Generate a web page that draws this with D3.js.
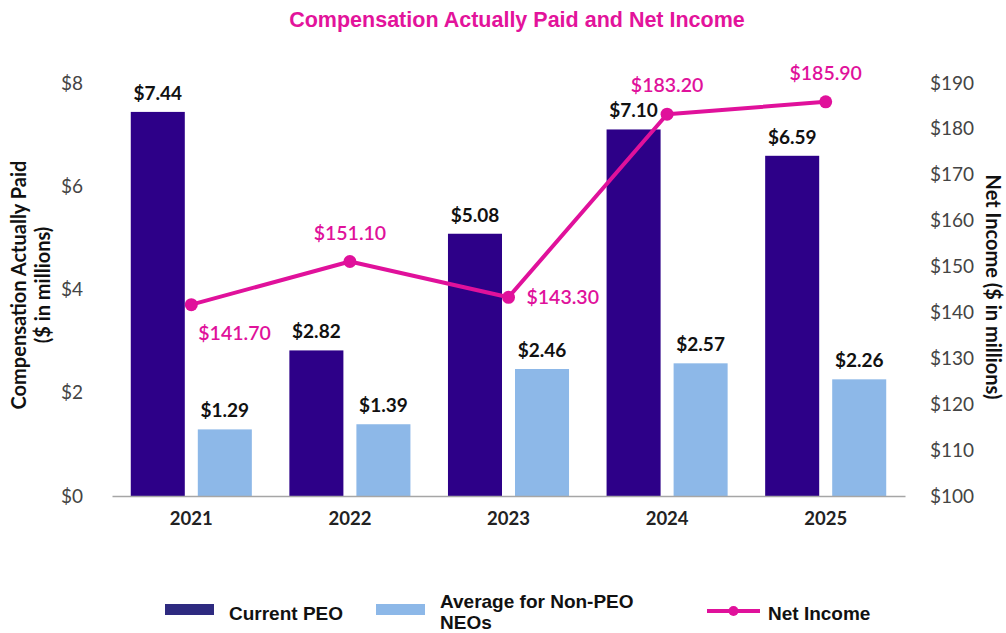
<!DOCTYPE html>
<html>
<head>
<meta charset="utf-8">
<script src="https://cdn.jsdelivr.net/npm/d3@7"></script>
<style>
  html, body { margin: 0; padding: 0; background: #fff; }
  svg { display: block; }
</style>
</head>
<body>
<svg id="chart" width="1006" height="633"></svg>
<script>
// ---- data ----
const years = ["2021", "2022", "2023", "2024", "2025"];
const currentPEO = [7.44, 2.82, 5.08, 7.10, 6.59];
const nonPEONEOs = [1.29, 1.39, 2.46, 2.57, 2.26];
const netIncome = [141.70, 151.10, 143.30, 183.20, 185.90];
const leftTicks = [0, 2, 4, 6, 8];
const rightTicks = [100, 110, 120, 130, 140, 150, 160, 170, 180, 190];
const seriesNames = ["Current PEO", "Average for Non-PEO NEOs", "Net Income"];

// label placement for net income values (layout only)
const niLabelPlace = ["belowRight", "above", "right", "above", "above"];

const C = {
  peo: "#2D0088",
  neo: "#8DB8E8",
  ni: "#E0119B",
  title: "#E3139B"
};

const svg = d3.select("#chart");
const M = { left: 112, right: 905, top: 83, bottom: 496 };

const x0 = d3.scaleBand().domain(years).range([M.left, M.right]).padding(0);
const x1 = d3.scaleBand().domain(["peo", "neo"]).range([0, x0.bandwidth()])
  .paddingInner(0.194).paddingOuter(0.28);
const yL = d3.scaleLinear().domain([0, 8]).range([M.bottom, M.top]);
const yR = d3.scaleLinear().domain([100, 190]).range([M.bottom, M.top]);

// title
svg.append("text")
  .attr("x", 517).attr("y", 27)
  .attr("text-anchor", "middle")
  .attr("font-family", "'Liberation Sans', Arial, sans-serif")
  .attr("font-weight", "bold")
  .attr("font-size", 21.5)
  .attr("fill", C.title)
  .text("Compensation Actually Paid and Net Income");

// left axis
const gL = svg.append("g").attr("transform", `translate(90,0)`)
  .call(d3.axisLeft(yL).tickValues(leftTicks).tickSize(0).tickPadding(7).tickFormat(d => "$" + d));
gL.select(".domain").remove();
gL.selectAll("text").attr("font-family", "Lato, sans-serif").attr("font-size", 19).attr("fill", "#444");

// right axis
const gR = svg.append("g").attr("transform", `translate(922,0)`)
  .call(d3.axisRight(yR).tickValues(rightTicks).tickSize(0).tickPadding(8).tickFormat(d => "$" + d));
gR.select(".domain").remove();
gR.selectAll("text").attr("font-family", "Lato, sans-serif").attr("font-size", 19).attr("fill", "#444");

// bars
const groups = svg.append("g").selectAll("g").data(years).join("g")
  .attr("transform", d => `translate(${x0(d)},0)`);

groups.append("rect")
  .attr("x", x1("peo")).attr("width", x1.bandwidth())
  .attr("y", (d, i) => yL(currentPEO[i]))
  .attr("height", (d, i) => yL(0) - yL(currentPEO[i]))
  .attr("fill", C.peo);
groups.append("rect")
  .attr("x", x1("neo")).attr("width", x1.bandwidth())
  .attr("y", (d, i) => yL(nonPEONEOs[i]))
  .attr("height", (d, i) => yL(0) - yL(nonPEONEOs[i]))
  .attr("fill", C.neo);

// bar labels
groups.append("text")
  .attr("x", x1("peo") + x1.bandwidth() / 2)
  .attr("y", (d, i) => yL(currentPEO[i]) - 12)
  .attr("text-anchor", "middle")
  .attr("font-family", "Lato, sans-serif").attr("font-weight", "bold").attr("font-size", 19)
  .attr("fill", "#111")
  .text((d, i) => "$" + currentPEO[i].toFixed(2));
groups.append("text")
  .attr("x", x1("neo") + x1.bandwidth() / 2)
  .attr("y", (d, i) => yL(nonPEONEOs[i]) - 12)
  .attr("text-anchor", "middle")
  .attr("font-family", "Lato, sans-serif").attr("font-weight", "bold").attr("font-size", 19)
  .attr("fill", "#111")
  .text((d, i) => "$" + nonPEONEOs[i].toFixed(2));

// x axis
const gX = svg.append("g").attr("transform", `translate(0,${M.bottom})`)
  .call(d3.axisBottom(x0).tickSize(0).tickPadding(16));
gX.select(".domain").attr("stroke", "#A6A6A6").attr("stroke-width", 1.5);
gX.selectAll("text").attr("font-family", "Lato, sans-serif").attr("font-weight", "bold")
  .attr("font-size", 18.5).attr("fill", "#222");

// net income line
const cx = (d, i) => x0(years[i]) + x0.bandwidth() / 2;
const line = d3.line().x((d, i) => cx(d, i)).y(d => yR(d));
svg.append("path").datum(netIncome)
  .attr("d", line).attr("fill", "none")
  .attr("stroke", C.ni).attr("stroke-width", 4).attr("stroke-linejoin", "round");
svg.append("g").selectAll("circle").data(netIncome).join("circle")
  .attr("cx", cx).attr("cy", d => yR(d)).attr("r", 6.5).attr("fill", C.ni);

svg.append("g").selectAll("text").data(netIncome).join("text")
  .attr("x", (d, i) => {
    const p = niLabelPlace[i];
    if (p === "belowRight") return cx(d, i) + 7;
    if (p === "right") return cx(d, i) + 18;
    return cx(d, i);
  })
  .attr("y", (d, i) => {
    const p = niLabelPlace[i];
    if (p === "belowRight") return yR(d) + 35;
    if (p === "right") return yR(d) + 7;
    return yR(d) - 22;
  })
  .attr("text-anchor", (d, i) => (niLabelPlace[i] === "above" ? "middle" : "start"))
  .attr("font-family", "Lato, sans-serif").attr("font-size", 19.5).attr("font-weight", 600)
  .attr("fill", C.ni)
  .text(d => "$" + d.toFixed(2));

// axis titles
svg.append("text")
  .attr("transform", "translate(26,285) rotate(-90)")
  .attr("text-anchor", "middle")
  .attr("font-family", "Lato, sans-serif").attr("font-weight", "bold").attr("font-size", 20)
  .attr("fill", "#111")
  .call(t => {
    t.append("tspan").attr("x", 0).attr("dy", 0).text("Compensation Actually Paid");
    t.append("tspan").attr("x", 0).attr("dy", 24).text("($ in millions)");
  });
svg.append("text")
  .attr("transform", "translate(986,287) rotate(90)")
  .attr("text-anchor", "middle")
  .attr("font-family", "Lato, sans-serif").attr("font-weight", "bold").attr("font-size", 20)
  .attr("fill", "#111")
  .text("Net Income ($ in millions)");

// legend
const lg = svg.append("g")
  .attr("font-family", "'Liberation Sans', Arial, sans-serif")
  .attr("font-weight", "bold").attr("font-size", 19).attr("fill", "#111");
lg.append("rect").attr("x", 165).attr("y", 604).attr("width", 49).attr("height", 11).attr("fill", "#2E2A80");
lg.append("text").attr("x", 229).attr("y", 620).text(seriesNames[0]);
lg.append("rect").attr("x", 376).attr("y", 604).attr("width", 49).attr("height", 11).attr("fill", C.neo);
lg.append("text").attr("x", 440).attr("y", 608).text("Average for Non-PEO");
lg.append("text").attr("x", 440).attr("y", 629).text("NEOs");
lg.append("line").attr("x1", 707).attr("x2", 760).attr("y1", 611).attr("y2", 611)
  .attr("stroke", C.ni).attr("stroke-width", 4);
lg.append("circle").attr("cx", 733.5).attr("cy", 611).attr("r", 5).attr("fill", C.ni);
lg.append("text").attr("x", 768).attr("y", 620).text(seriesNames[2]);
</script>
</body>
</html>
